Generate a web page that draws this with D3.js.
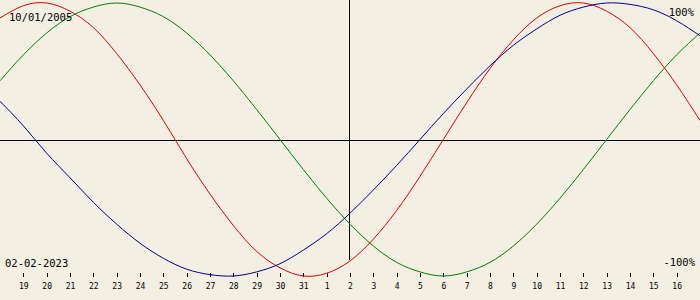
<!DOCTYPE html>
<html>
<head>
<meta charset="utf-8">
<script src="https://cdn.jsdelivr.net/npm/d3@7"></script>
<style>
  body { margin: 0; background: #f3efe3; }
  svg { display: block; }
</style>
</head>
<body>
<svg id="chart"></svg>
<script>
// days shown: Jan 18 .. Feb 17 2023 (one value per day)
const startDate = new Date(2023, 0, 18);
const dayCount = 31;
const birthLabel = "10/01/2005";
const todayLabel = "02-02-2023";

// biorhythm values, -1 .. 1
const physical = [0.89, 0.98, 1.00, 0.94, 0.82, 0.63, 0.40, 0.14, -0.14, -0.40, -0.63,
  -0.82, -0.94, -1.00, -0.98, -0.89, -0.73, -0.52, -0.27, 0.00, 0.27, 0.52,
  0.73, 0.89, 0.98, 1.00, 0.94, 0.82, 0.63, 0.40, 0.14];
const emotional = [0.43, 0.62, 0.78, 0.90, 0.97, 1.00, 0.97, 0.90, 0.78, 0.62, 0.43,
  0.22, 0.00, -0.22, -0.43, -0.62, -0.78, -0.90, -0.97, -1.00, -0.97, -0.90,
  -0.78, -0.62, -0.43, -0.22, 0.00, 0.22, 0.43, 0.62, 0.78];
const intellectual = [0.28, 0.10, -0.10, -0.28, -0.46, -0.62, -0.76, -0.87, -0.95, -0.99, -1.00,
  -0.97, -0.91, -0.81, -0.69, -0.54, -0.37, -0.19, 0.00, 0.19, 0.37, 0.54,
  0.69, 0.81, 0.91, 0.97, 1.00, 0.99, 0.95, 0.87, 0.76];

const width = 700, height = 300;
const svg = d3.select("#chart").attr("width", width).attr("height", height);

const dates = d3.range(dayCount).map(i => d3.timeDay.offset(startDate, i));
const x = d3.scaleTime()
  .domain([dates[0], dates[dates.length - 1]])
  .range([0, width]);
const y = d3.scaleLinear().domain([-1, 1]).range([276, 3]);

// cross lines
svg.append("line")
  .attr("x1", 0).attr("x2", width)
  .attr("y1", Math.round(y(0)) + 0.5).attr("y2", Math.round(y(0)) + 0.5)
  .attr("stroke", "#000");
const today = new Date(2023, 1, 2);
svg.append("line")
  .attr("x1", Math.round(x(today)) - 0.5).attr("x2", Math.round(x(today)) - 0.5)
  .attr("y1", 0).attr("y2", 260)
  .attr("stroke", "#000");

// day axis
const tickDates = dates.slice(1, -1);
const axis = svg.append("g")
  .attr("transform", "translate(0,273)")
  .call(d3.axisBottom(x)
    .tickValues(tickDates)
    .tickSize(4)
    .tickPadding(6)
    .tickFormat(d3.timeFormat("%-d")));
axis.select(".domain").remove();
axis.selectAll(".tick line").attr("stroke", "#000").attr("shape-rendering", "crispEdges");
axis.selectAll(".tick text")
  .attr("font-family", "DejaVu Sans Mono, monospace")
  .attr("font-size", 8)
  .attr("fill", "#000");

const line = d3.line()
  .x((d, i) => x(dates[i]))
  .y(d => y(d))
  .curve(d3.curveNatural);

const series = [
  { values: physical, color: "#e00000" },
  { values: emotional, color: "#008000" },
  { values: intellectual, color: "#000090" }
];
series.forEach(s => {
  svg.append("path")
    .datum(s.values)
    .attr("d", line)
    .attr("fill", "none")
    .attr("stroke", s.color)
    .attr("stroke-width", 1);
});

// labels
const label = (t, xx, yy, anchor) => svg.append("text")
  .attr("x", xx).attr("y", yy)
  .attr("text-anchor", anchor)
  .attr("font-family", "DejaVu Sans Mono, monospace")
  .attr("font-size", 10.5)
  .attr("fill", "#000")
  .text(t);
label(birthLabel, 9, 21, "start");
label("100%", 694, 16, "end");
label(todayLabel, 5, 267, "start");
label("-100%", 695, 266, "end");
</script>
</body>
</html>
